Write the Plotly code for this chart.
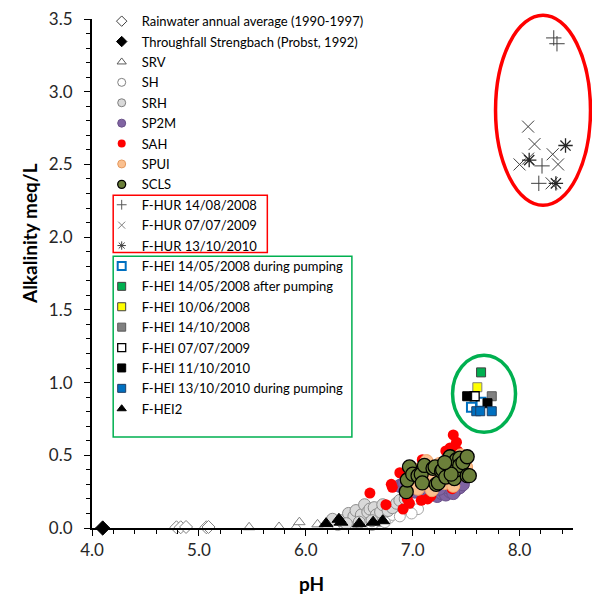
import plotly.graph_objects as go

# ---------------- data ----------------
rain_ph = [4.79, 4.83, 4.88, 5.07, 5.09]
rain_alk = [0.005, 0.005, 0.007, 0.005, 0.007]

thr_ph = [4.10]
thr_alk = [0.0]

srv_ph = [5.47, 5.75, 5.91, 5.94, 6.11, 6.22, 6.40, 6.50, 6.58, 6.69, 6.35, 6.45, 6.62]
srv_alk = [0.005, 0.007, 0.007, 0.04, 0.025, 0.05, 0.08, 0.04, 0.03, 0.03, 0.02, 0.03, 0.04]

sh_ph = [6.30, 6.35, 6.46, 6.55, 6.62, 6.69, 6.78, 6.81, 6.88, 6.95, 7.05, 6.99, 6.74]
sh_alk = [0.02, 0.03, 0.04, 0.03, 0.02, 0.05, 0.07, 0.09, 0.08, 0.13, 0.13, 0.10, 0.04]

srh_ph = [6.25, 6.33, 6.40, 6.45, 6.47, 6.52, 6.55, 6.58, 6.60, 6.64, 6.66, 6.70, 6.72,
          6.77, 6.81, 6.85, 6.88, 6.62, 6.50, 6.38, 6.93]
srh_alk = [0.06, 0.05, 0.10, 0.08, 0.12, 0.09, 0.16, 0.11, 0.13, 0.14, 0.09, 0.11, 0.16,
           0.12, 0.14, 0.17, 0.19, 0.05, 0.04, 0.03, 0.20]

sp2m_ph = [6.88, 6.92, 6.96, 7.02, 7.10, 7.18, 7.23, 7.27, 7.31, 7.35, 7.40, 7.44, 7.47,
           7.33, 7.25, 7.38, 7.15]
sp2m_alk = [0.29, 0.31, 0.26, 0.25, 0.24, 0.23, 0.22, 0.24, 0.23, 0.25, 0.26, 0.28, 0.30,
            0.28, 0.27, 0.24, 0.26]

sah_ph = [7.38, 7.41, 7.31, 7.42, 7.09, 7.48, 6.88, 6.81, 6.80, 6.60, 6.75, 6.91, 6.97,
          7.08, 7.14, 7.17, 7.37, 7.45, 7.35, 7.05, 7.20, 6.95]
sah_alk = [0.64, 0.59, 0.53, 0.53, 0.47, 0.50, 0.38, 0.28, 0.30, 0.24, 0.16, 0.13, 0.17,
           0.19, 0.20, 0.22, 0.27, 0.45, 0.55, 0.33, 0.40, 0.20]

spui_ph = [7.00, 7.03, 7.05, 7.10, 7.13, 7.15, 7.18, 7.20, 7.25, 7.30, 7.33, 7.38, 7.42,
           7.45, 7.50, 7.12, 7.26]
spui_alk = [0.30, 0.40, 0.27, 0.35, 0.46, 0.30, 0.26, 0.36, 0.44, 0.31, 0.41, 0.29, 0.36,
            0.50, 0.42, 0.40, 0.34]

scls_ph = [6.94, 6.95, 6.97, 7.00, 7.05, 7.08, 7.09, 7.11, 7.19, 7.21, 7.22, 7.24, 7.27,
           7.28, 7.31, 7.33, 7.35, 7.37, 7.39, 7.41, 7.41, 7.44, 7.44, 7.47, 7.51, 7.51,
           7.53, 7.36, 7.30]
scls_alk = [0.25, 0.33, 0.42, 0.37, 0.36, 0.37, 0.31, 0.43, 0.41, 0.42, 0.30, 0.31, 0.39,
            0.40, 0.35, 0.46, 0.49, 0.44, 0.34, 0.40, 0.47, 0.48, 0.43, 0.45, 0.49, 0.36,
            0.36, 0.37, 0.45]

hur08_ph = [8.32, 8.35, 8.21, 8.18]
hur08_alk = [3.37, 3.33, 2.49, 2.37]
hur09_ph = [8.08, 8.14, 8.00, 8.08, 8.31, 8.36, 8.30]
hur09_alk = [2.76, 2.64, 2.50, 2.54, 2.57, 2.50, 2.37]
hur10_ph = [8.43, 8.09, 8.34]
hur10_alk = [2.63, 2.53, 2.37]

hei0805d_ph = [7.55, 7.64]
hei0805d_alk = [0.83, 0.865]
hei0805a_ph = [7.64]
hei0805a_alk = [1.07]
hei0806_ph = [7.605]
hei0806_alk = [0.968]
hei0810_ph = [7.74]
hei0810_alk = [0.906]
hei0907_ph = [7.58]
hei0907_alk = [0.906]
hei1011_ph = [7.51, 7.70]
hei1011_alk = [0.906, 0.858]
hei1013_ph = [7.595, 7.632, 7.74]
hei1013_alk = [0.803, 0.803, 0.803]

hei2_ph = [6.19, 6.31, 6.33, 6.50, 6.63, 6.72]
hei2_alk = [0.03, 0.06, 0.04, 0.03, 0.04, 0.05]

x_ticks = [4.0, 5.0, 6.0, 7.0, 8.0]
x_ticklabels = ["4.0", "5.0", "6.0", "7.0", "8.0"]
y_ticks = [0.0, 0.5, 1.0, 1.5, 2.0, 2.5, 3.0, 3.5]
y_ticklabels = ["0.0", "0.5", "1.0", "1.5", "2.0", "2.5", "3.0", "3.5"]

# ---------------- series definitions ----------------
series = [
    ("Rainwater annual average (1990-1997)", rain_ph, rain_alk,
     dict(symbol="diamond", color="white", size=10, line=dict(color="#7F7F7F", width=1)),
     dict(symbol="diamond", color="white", size=8, line=dict(color="#404040", width=1))),
    ("Throughfall Strengbach (Probst, 1992)", thr_ph, thr_alk,
     dict(symbol="diamond", color="black", size=11, line=dict(color="black", width=1)),
     dict(symbol="diamond", color="black", size=8, line=dict(color="black", width=1))),
    ("SRV", srv_ph, srv_alk,
     dict(symbol="triangle-up", color="white", size=10, line=dict(color="#7F7F7F", width=1)),
     dict(symbol="triangle-up", color="white", size=8, line=dict(color="#595959", width=1))),
    ("SH", sh_ph, sh_alk,
     dict(symbol="circle", color="white", size=11, line=dict(color="#A6A6A6", width=1)),
     dict(symbol="circle", color="white", size=8, line=dict(color="#7F7F7F", width=1))),
    ("SRH", srh_ph, srh_alk,
     dict(symbol="circle", color="#D9D9D9", size=12, line=dict(color="#8C8C8C", width=1)),
     dict(symbol="circle", color="#D9D9D9", size=8, line=dict(color="#7F7F7F", width=1))),
    ("SP2M", sp2m_ph, sp2m_alk,
     dict(symbol="circle", color="#8064A2", size=13, line=dict(color="#6A5189", width=1)),
     dict(symbol="circle", color="#8064A2", size=8, line=dict(color="#6A5189", width=1))),
    ("SAH", sah_ph, sah_alk,
     dict(symbol="circle", color="#FF0000", size=11, line=dict(color="#FF0000", width=0)),
     dict(symbol="circle", color="#FF0000", size=8, line=dict(color="#FF0000", width=0))),
    ("SPUI", spui_ph, spui_alk,
     dict(symbol="circle", color="#FAC090", size=13, line=dict(color="#F2A46A", width=1)),
     dict(symbol="circle", color="#FAC090", size=8, line=dict(color="#E59A60", width=1))),
    ("SCLS", scls_ph, scls_alk,
     dict(symbol="circle", color="#6B7F3A", size=14, line=dict(color="black", width=1.3)),
     dict(symbol="circle", color="#6B7F3A", size=8, line=dict(color="black", width=1.3))),
    ("F-HUR 14/08/2008", hur08_ph, hur08_alk,
     dict(symbol="cross-thin-open", color="#404040", size=11, line=dict(color="#404040", width=1)),
     dict(symbol="cross-thin-open", color="#595959", size=7, line=dict(color="#595959", width=1))),
    ("F-HUR 07/07/2009", hur09_ph, hur09_alk,
     dict(symbol="x-thin-open", color="#404040", size=12, line=dict(color="#404040", width=1)),
     dict(symbol="x-thin-open", color="#7F7F7F", size=7, line=dict(color="#7F7F7F", width=1))),
    ("F-HUR 13/10/2010", hur10_ph, hur10_alk,
     dict(symbol="asterisk-open", color="#262626", size=12, line=dict(color="#262626", width=1.3)),
     dict(symbol="asterisk-open", color="#404040", size=7, line=dict(color="#404040", width=1))),
    ("F-HEI 14/05/2008 during pumping", hei0805d_ph, hei0805d_alk,
     dict(symbol="square", color="white", size=9, line=dict(color="#0070C0", width=2)),
     dict(symbol="square", color="white", size=8, line=dict(color="#0070C0", width=2))),
    ("F-HEI 14/05/2008 after pumping", hei0805a_ph, hei0805a_alk,
     dict(symbol="square", color="#00B050", size=9, line=dict(color="#404040", width=1)),
     dict(symbol="square", color="#00B050", size=8, line=dict(color="#404040", width=1))),
    ("F-HEI 10/06/2008", hei0806_ph, hei0806_alk,
     dict(symbol="square", color="#FFFF00", size=9, line=dict(color="#7F7F7F", width=1)),
     dict(symbol="square", color="#FFFF00", size=8, line=dict(color="#404040", width=1))),
    ("F-HEI 14/10/2008", hei0810_ph, hei0810_alk,
     dict(symbol="square", color="#808080", size=9, line=dict(color="#595959", width=1)),
     dict(symbol="square", color="#808080", size=8, line=dict(color="#595959", width=1))),
    ("F-HEI 07/07/2009", hei0907_ph, hei0907_alk,
     dict(symbol="square", color="white", size=9, line=dict(color="black", width=1.3)),
     dict(symbol="square", color="white", size=8, line=dict(color="black", width=1.3))),
    ("F-HEI 11/10/2010", hei1011_ph, hei1011_alk,
     dict(symbol="square", color="black", size=9, line=dict(color="black", width=1)),
     dict(symbol="square", color="black", size=8, line=dict(color="black", width=1))),
    ("F-HEI 13/10/2010 during pumping", hei1013_ph, hei1013_alk,
     dict(symbol="square", color="#0070C0", size=9, line=dict(color="#1F3F66", width=1)),
     dict(symbol="square", color="#0070C0", size=8, line=dict(color="#1F3F66", width=1))),
    ("F-HEI2", hei2_ph, hei2_alk,
     dict(symbol="triangle-up", color="black", size=12, line=dict(color="black", width=1)),
     dict(symbol="triangle-up", color="black", size=8, line=dict(color="black", width=1))),
]

fig = go.Figure()
for i, (name, xs, ys, mk, lmk) in enumerate(series):
    fig.add_trace(go.Scatter(x=xs, y=ys, mode="markers", name=name, marker=mk,
                             showlegend=False, legendgroup=f"g{i:02d}", cliponaxis=False,
                             hoverinfo="x+y+name"))
for i, (name, xs, ys, mk, lmk) in enumerate(series):
    fig.add_trace(go.Scatter(x=[None], y=[None], mode="markers", name=name, marker=lmk,
                             showlegend=True, legendgroup=f"g{i:02d}"))

# ---------------- geometry helpers (pixel -> paper) ----------------
L, R, T, B = 92.3, 573.5, 18.7, 527.7
W, H = R - L, B - T


def px(x):
    return (x - L) / W


def py(y):
    return (B - y) / H


shapes = [
    # legend group boxes
    dict(type="rect", xref="paper", yref="paper", x0=px(113.5), x1=px(267.7),
         y0=py(252.3), y1=py(195), line=dict(color="#FF0000", width=1.5)),
    dict(type="rect", xref="paper", yref="paper", x0=px(113.5), x1=px(352.3),
         y0=py(436.7), y1=py(256), line=dict(color="#00B050", width=1.5)),
    # highlight ellipses
    dict(type="circle", xref="paper", yref="paper", x0=px(496), x1=px(591),
         y0=py(205), y1=py(15), line=dict(color="#FF0000", width=3.5)),
    dict(type="circle", xref="paper", yref="paper", x0=px(453), x1=px(516),
         y0=py(432), y1=py(355), line=dict(color="#00B050", width=3.5)),
]

font_family = "Lato, 'Open Sans', sans-serif"
tick_font = dict(family=font_family, size=17, color="#262626")

fig.update_layout(
    width=592, height=601,
    margin=dict(l=L, r=592 - R, t=T, b=601 - B, pad=0, autoexpand=False),
    paper_bgcolor="white", plot_bgcolor="white",
    font=dict(family=font_family, color="black"),
    showlegend=True,
    legend=dict(x=px(102), y=py(423.9), xanchor="left", yanchor="bottom",
                bgcolor="rgba(0,0,0,0)", borderwidth=0,
                font=dict(family=font_family, size=13, color="black"),
                itemwidth=30, tracegroupgap=0.5, traceorder="grouped"),
    shapes=shapes,
    annotations=[
        dict(text="<b>Alkalinity meq/L</b>", xref="paper", yref="paper",
             x=px(30), y=py(233), xanchor="center", yanchor="middle",
             textangle=-90, showarrow=False,
             font=dict(family=font_family, size=19, color="black")),
        dict(text="<b>pH</b>", xref="paper", yref="paper",
             x=px(312), y=py(583), xanchor="center", yanchor="middle", showarrow=False,
             font=dict(family=font_family, size=19, color="black")),
    ],
    xaxis=dict(range=[4.0, 8.5], tickvals=x_ticks, ticktext=x_ticklabels,
               showgrid=False, zeroline=False, showline=True, linecolor="black",
               linewidth=2, ticks="outside", ticklen=6, tickwidth=1.3, tickcolor="black",
               tickfont=tick_font,
               minor=dict(dtick=0.2, tick0=4.0, ticks="outside", ticklen=4,
                          tickwidth=1, tickcolor="black", showgrid=False)),
    yaxis=dict(range=[0, 3.5], tickvals=y_ticks, ticktext=y_ticklabels,
               showgrid=False, zeroline=False, showline=True, linecolor="black",
               linewidth=2, ticks="outside", ticklen=6, tickwidth=1.3, tickcolor="black",
               tickfont=tick_font, ticklabelstandoff=8,
               minor=dict(dtick=0.1, tick0=0, ticks="outside", ticklen=4,
                          tickwidth=1, tickcolor="black", showgrid=False)),
)

fig.write_html("out.html")
